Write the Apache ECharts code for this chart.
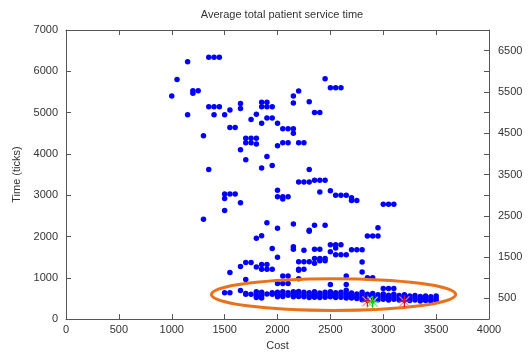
<!DOCTYPE html>
<html>
<head>
<meta charset="utf-8">
<title>Average total patient service time</title>
<script src="https://cdn.jsdelivr.net/npm/echarts@6/dist/echarts.min.js"></script>
<style>
  html, body { margin: 0; padding: 0; background: #fff; }
  #chart { width: 532px; height: 356px; }
</style>
</head>
<body>
<div id="chart"></div>
<script>
// cost / time pairs, upper scatter
var scatterPoints = [
  [1000,5400],[1050,5800],[1150,6230],[1200,5530],[1200,5470],[1250,5530],[1150,4950],
  [1350,6340],[1400,6340],[1450,6340],
  [1350,5140],[1400,5140],[1450,5140],
  [1400,4950],[1500,4950],[1550,5060],[1650,5220],[1650,5100],
  [1750,4830],[1800,4960],
  [1850,5250],[1900,5250],[1850,5140],[1900,5140],[1950,5140],
  [1850,4740],[1900,4870],[1950,4870],[2000,4740],
  [2050,4610],[2100,4610],[2150,4610],[2150,4500],
  [2150,5400],[2150,5230],[2200,5520],[2300,5260],[2350,5000],[2400,5000],
  [2450,5820],[2500,5600],[2550,5600],[2600,5600],
  [1300,4440],[1550,4640],[1600,4640],
  [1700,4380],[1750,4380],[1800,4380],[1700,4270],[1750,4270],[1800,4240],
  [1650,4100],[1700,3860],
  [2000,4200],[2050,4270],[2100,4270],[2200,4270],[2250,4270],
  [1900,3940],[1850,3660],[1950,3720],[1350,3620],[2300,3620],
  [2200,3320],[2250,3320],[2300,3320],[2350,3360],[2400,3360],[2450,3360],
  [2400,3080],[2500,3110],[2550,3000],[2600,3000],[2650,3000],
  [2700,2940],[2700,2870],[2750,2870],
  [2000,3120],[2000,2960],[2050,2960],[2100,2960],[2050,2910],
  [1500,3030],[1550,3030],[1600,3030],[1500,2920],[1650,2820],[1500,2630],
  [3000,2780],[3050,2780],[3100,2780],
  [1300,2420],[1900,2330],[2150,2300],[2350,2270],[2450,2270],[2950,2210],
  [2000,2200],[2300,2150],[2300,2130],
  [1800,1960],[1850,2020],[2850,2010],[2900,2010],[2950,2010],
  [1950,1710],[2150,1750],[2150,1690],[2250,1670],[2350,1690],[2400,1690],
  [2500,1800],[2550,1800],[2600,1800],[2550,1720],
  [2500,1630],[2550,1560],[2600,1560],[2650,1560],
  [2700,1680],[2750,1680],[2800,1680],
  [2000,1500],[1550,1130],[1650,1275],[1700,1370],[1750,1370],[1800,1260],
  [1850,1320],[1900,1320],[1850,1210],[1900,1210],[1950,1210],
  [2200,1390],[2250,1390],[2300,1390],[2200,1210],[2250,1210],[2200,1180],
  [2350,1470],[2400,1470],[2450,1470],[2350,1350],[2400,1410],[2450,1410],
  [2800,1380],[2800,1140],[1700,960],
  [2050,1045],[2100,1045],[2000,860],[2050,860],[2100,860],[2200,980],
  [2500,840],[2650,1045],[2650,840],
  [2850,1000],[2900,1000],[3000,740],[3050,740],[3100,740],
  [1500,640],[1550,640],[1650,690]
];

// the dense band near the bottom
var bandPoints = [
  [1700,600],[1700,620],[1750,600],
  [1800,660],[1800,580],[1800,520],[1850,650],[1850,570],[1850,510],
  [1900,610],[1950,600],[1950,640],
  [2000,650],[2000,580],[2000,540],[2050,660],[2050,590],[2050,550],
  [2100,640],[2100,580],[2150,660],[2150,600],[2150,540],
  [2200,670],[2200,610],[2200,550],[2250,650],[2250,590],[2250,540],
  [2300,640],[2300,580],[2300,520],[2350,660],[2350,600],[2350,530],
  [2400,630],[2400,570],[2400,520],[2450,650],[2450,590],[2450,530],
  [2500,660],[2500,600],[2500,540],[2550,640],[2550,580],[2550,520],
  [2600,650],[2600,590],[2600,530],[2650,700],[2650,620],[2650,560],[2650,510],
  [2700,630],[2700,570],[2700,510],[2750,610],[2750,550],[2750,500],
  [2800,650],[2800,590],[2800,530],[2800,470],[2850,600],[2850,540],[2850,480],
  [2900,620],[2900,560],[2900,500],[2950,590],[2950,530],[2950,470],
  [3000,610],[3000,550],[3000,480],[3050,580],[3050,520],[3050,460],
  [3100,600],[3100,540],[3100,480],[3150,570],[3150,510],[3150,460],
  [3200,590],[3200,530],[3200,470],[3250,560],[3250,500],[3250,450],
  [3300,570],[3300,510],[3300,460],[3350,550],[3350,490],[3350,440],
  [3400,560],[3400,500],[3400,450],[3450,540],[3450,480],[3450,440],
  [3500,560],[3500,500],[3500,450]
];

// highlighted markers
var redStars = [[2850,430],[3200,430]];
var greenStars = [[2900,420]];

// orange ellipse: centre cost, centre time, radius cost, radius time
var ellipseRing = [[2530,594,1155,386]];

var xTicks = [0,500,1000,1500,2000,2500,3000,3500,4000];
var yTicks = [0,1000,2000,3000,4000,5000,6000,7000];

var myChart = echarts.init(document.getElementById('chart'));

var axisColor = '#555';
var textColor = '#333';
var font = 'Liberation Sans, Arial, sans-serif';

function plain(v) { return String(v); }

function starSeries(data, strong, light) {
  return {
    type: 'custom',
    data: data,
    z: 5,
    silent: true,
    renderItem: function (params, api) {
      var p = api.coord([api.value(0), api.value(1)]);
      var a = 6, d = 5;
      return {
        type: 'group',
        children: [
          {type: 'line', shape: {x1: p[0] - d, y1: p[1] - d, x2: p[0] + d, y2: p[1] + d}, style: {stroke: light, lineWidth: 1.2}},
          {type: 'line', shape: {x1: p[0] - d, y1: p[1] + d, x2: p[0] + d, y2: p[1] - d}, style: {stroke: light, lineWidth: 1.2}},
          {type: 'line', shape: {x1: p[0] - a, y1: p[1], x2: p[0] + a, y2: p[1]}, style: {stroke: strong, lineWidth: 1.4}},
          {type: 'line', shape: {x1: p[0], y1: p[1] - a, x2: p[0], y2: p[1] + a}, style: {stroke: strong, lineWidth: 1.4}},
          {type: 'circle', shape: {cx: p[0], cy: p[1], r: 2}, style: {fill: strong}}
        ]
      };
    }
  };
}

var option = {
  animation: false,
  textStyle: {fontFamily: font},
  title: {
    text: 'Average total patient service time',
    left: 277,
    top: 4,
    textAlign: 'center',
    textStyle: {fontSize: 11, fontWeight: 'normal', color: textColor, fontFamily: font}
  },
  grid: {left: 66, right: 43, top: 30, bottom: 33},
  xAxis: [{
    type: 'value',
    position: 'bottom',
    min: xTicks[0], max: xTicks[xTicks.length - 1], interval: 500,
    name: 'Cost', nameLocation: 'middle', nameGap: 19,
    nameTextStyle: {fontSize: 11, color: textColor, fontFamily: font},
    axisLine: {show: true, onZero: false, lineStyle: {color: axisColor}},
    axisTick: {show: true, inside: true, length: 5, lineStyle: {color: axisColor}},
    axisLabel: {fontSize: 11, color: textColor, margin: 5, fontFamily: font, formatter: plain},
    splitLine: {show: false}
  }, {
    type: 'value',
    position: 'top',
    min: xTicks[0], max: xTicks[xTicks.length - 1], interval: 500,
    axisLine: {show: true, onZero: false, lineStyle: {color: axisColor}},
    axisTick: {show: true, inside: true, length: 5, lineStyle: {color: axisColor}},
    axisLabel: {show: false},
    splitLine: {show: false}
  }],
  yAxis: [{
    type: 'value',
    position: 'left',
    min: yTicks[0], max: yTicks[yTicks.length - 1], interval: 1000,
    name: 'Time (ticks)', nameLocation: 'middle', nameGap: 44, nameRotate: 90,
    nameTextStyle: {fontSize: 11, color: textColor, fontFamily: font},
    axisLine: {show: true, onZero: false, lineStyle: {color: axisColor}},
    axisTick: {show: true, inside: true, length: 5, lineStyle: {color: axisColor}},
    axisLabel: {fontSize: 11, color: textColor, margin: 8, fontFamily: font, formatter: plain},
    splitLine: {show: false}
  }, {
    type: 'value',
    position: 'right',
    min: yTicks[0], max: yTicks[yTicks.length - 1], interval: 500,
    axisLine: {show: true, onZero: false, lineStyle: {color: axisColor}},
    axisTick: {show: true, inside: true, length: 5, lineStyle: {color: axisColor}},
    axisLabel: {
      fontSize: 11, color: textColor, margin: 9, fontFamily: font,
      formatter: function (v) { return v % 1000 === 500 ? String(v) : ''; }
    },
    splitLine: {show: false}
  }],
  series: [{
    name: 'service time',
    type: 'scatter',
    data: scatterPoints.concat(bandPoints),
    symbol: 'circle',
    symbolSize: 5.5,
    itemStyle: {color: '#0000ff', opacity: 1},
    silent: true
  }, {
    type: 'custom',
    data: ellipseRing,
    z: 4,
    silent: true,
    renderItem: function (params, api) {
      var c = api.coord([api.value(0), api.value(1)]);
      var s = api.size([api.value(2), api.value(3)]);
      return {
        type: 'ellipse',
        shape: {cx: c[0], cy: c[1], rx: s[0], ry: s[1]},
        style: {fill: 'none', stroke: '#e8731a', lineWidth: 3}
      };
    }
  },
  starSeries(redStars, '#e0102a', '#ff8090'),
  starSeries(greenStars, '#20c020', '#80ee80')
  ]
};
myChart.setOption(option);
</script>
</body>
</html>
